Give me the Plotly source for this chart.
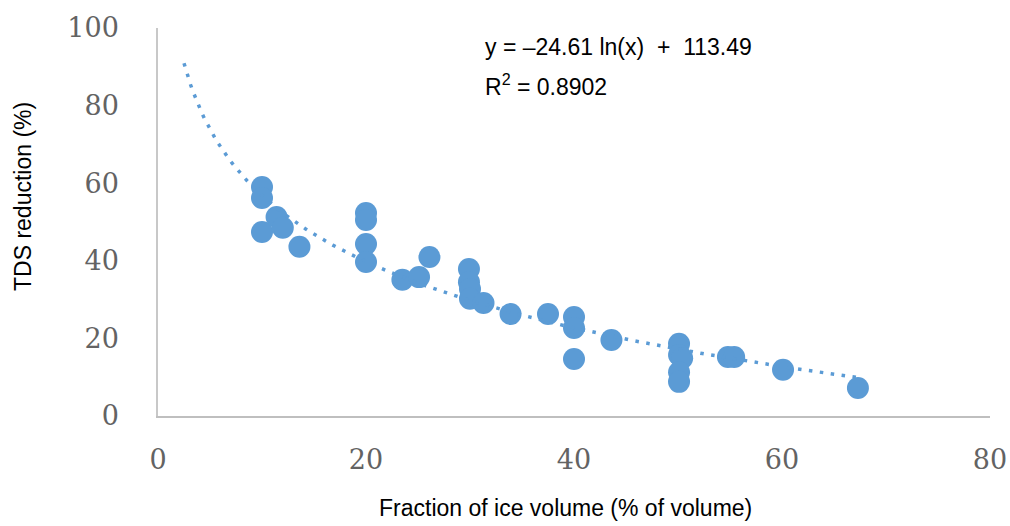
import plotly.graph_objects as go
import numpy as np

# Data
ice_fraction = [10.0, 10.0, 10.0, 11.4, 12.0, 13.6, 20.0, 20.0, 20.0, 20.0,
                23.5, 25.1, 26.1, 29.9, 29.9, 30.0, 30.0, 31.3, 33.9, 37.5,
                40.0, 40.0, 40.0, 43.6, 50.1, 50.1, 50.4, 50.1, 50.1, 54.8,
                55.4, 60.1, 67.3]
tds_reduction = [59.0, 56.2, 47.4, 51.3, 48.5, 43.6, 52.3, 50.5, 44.3, 39.7,
                 35.1, 35.8, 41.0, 37.9, 34.5, 32.7, 30.2, 29.1, 26.3, 26.3,
                 25.5, 22.7, 14.7, 19.6, 18.6, 15.7, 14.9, 11.3, 8.8, 15.2,
                 15.2, 11.9, 7.2]

# Logarithmic trendline coefficients (as shown on chart)
trend_a = -24.61
trend_b = 113.49
trend_x_start = 2.5
trend_x_end = 67.3

x_ticks = [0, 20, 40, 60, 80]
y_ticks = [0, 20, 40, 60, 80, 100]

blue = "#5B9BD5"

tx = np.linspace(trend_x_start, trend_x_end, 300)
ty = trend_a * np.log(tx) + trend_b

fig = go.Figure()
fig.add_trace(go.Scatter(
    x=ice_fraction, y=tds_reduction, mode="markers",
    marker=dict(size=22, color=blue, line=dict(width=0)),
    hoverinfo="skip", showlegend=False,
))
fig.add_trace(go.Scatter(
    x=tx, y=ty, mode="lines",
    line=dict(color=blue, width=3.5, dash="3.5px,7.5px"),
    hoverinfo="skip", showlegend=False,
))

tick_font = dict(family="DejaVu Serif", size=27, color="#636363")

fig.update_layout(
    template="none",
    width=1010, height=526, autosize=False,
    margin=dict(l=158, r=20, t=28, b=110),
    paper_bgcolor="white", plot_bgcolor="white",
    xaxis=dict(range=[0, 80], tickvals=x_ticks, showgrid=False, zeroline=False,
               showline=True, linecolor="#BFBFBF", linewidth=1.5, automargin=False,
               ticks="", tickfont=tick_font, ticklabelstandoff=19),
    yaxis=dict(range=[0, 100], tickvals=y_ticks, showgrid=False, zeroline=False,
               showline=True, linecolor="#C8C8C8", linewidth=1.5, automargin=False,
               ticks="", tickfont=tick_font, ticklabelstandoff=32),
    annotations=[
        dict(text="y = \u201324.61 ln(x)\u00a0\u00a0+\u00a0\u00a0113.49",
             xref="paper", yref="paper", x=(483 - 158) / 832, y=(416 - 47) / 388,
             xanchor="left", yanchor="middle", showarrow=False,
             font=dict(family="Liberation Sans", size=23, color="black")),
        dict(text="R<sup>2</sup> = 0.8902",
             xref="paper", yref="paper", x=(483 - 158) / 832, y=(416 - 85) / 388,
             xanchor="left", yanchor="middle", showarrow=False,
             font=dict(family="Liberation Sans", size=23, color="black")),
        dict(text="TDS reduction (%)", textangle=-90,
             xref="paper", yref="paper", x=(23 - 158) / 832, y=(416 - 197) / 388,
             xanchor="center", yanchor="middle", showarrow=False,
             font=dict(family="Liberation Sans", size=23, color="black")),
        dict(text="Fraction of ice volume (% of volume)",
             xref="paper", yref="paper", x=(565 - 158) / 832, y=(416 - 508) / 388,
             xanchor="center", yanchor="middle", showarrow=False,
             font=dict(family="Liberation Sans", size=23, color="black")),
    ],
)

fig.write_html("out.html")
